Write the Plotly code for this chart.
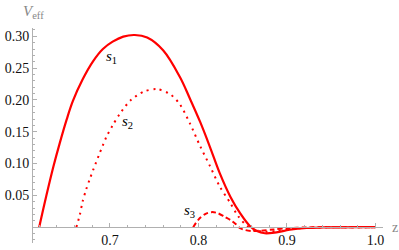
import plotly.graph_objects as go

# ---- data ----
s1_x = [0.620, 0.628, 0.636, 0.643, 0.651, 0.658, 0.669, 0.681, 0.692, 0.703, 0.715, 0.728,
        0.742, 0.760, 0.779, 0.790, 0.802, 0.813, 0.824, 0.836, 0.847, 0.858, 0.866, 0.875,
        0.888, 0.903, 0.922, 0.940, 0.960, 0.980, 1.000]
s1_y = [0.0, 0.049, 0.095, 0.131, 0.169, 0.198, 0.232, 0.261, 0.280, 0.2915, 0.2995, 0.302,
        0.298, 0.278, 0.236, 0.203, 0.165, 0.126, 0.085, 0.048, 0.022, 0.002, -0.006, -0.0095,
        -0.008, -0.004, -0.0012, -0.0004, -0.0001, 0.0, 0.0]

s2_x = [0.662, 0.666, 0.669, 0.673, 0.677, 0.681, 0.688, 0.696, 0.703, 0.711, 0.723, 0.738,
        0.753, 0.768, 0.779, 0.790, 0.802, 0.813, 0.824, 0.836, 0.845, 0.855, 0.865, 0.875,
        0.888, 0.903, 0.922, 0.940, 0.960, 0.980, 1.000]
s2_y = [0.0, 0.020, 0.040, 0.059, 0.075, 0.090, 0.115, 0.142, 0.160, 0.178, 0.199, 0.213,
        0.217, 0.209, 0.193, 0.164, 0.127, 0.096, 0.064, 0.038, 0.017, 0.002, -0.005, -0.007,
        -0.006, -0.003, -0.001, -0.0003, 0.0, 0.0, 0.0]

s3_x = [0.794, 0.800, 0.808, 0.815, 0.822, 0.830, 0.836, 0.842, 0.847, 0.853, 0.860, 0.870,
        0.885, 0.900, 0.920, 0.950, 1.000]
s3_y = [0.0, 0.012, 0.021, 0.0237, 0.022, 0.016, 0.0115, 0.005, -0.0016, -0.0045, -0.006, -0.0055,
        -0.0035, -0.0016, -0.0005, 0.0, 0.0]

x_ticks = [0.7, 0.8, 0.9, 1.0]
x_tick_text = ["0.7", "0.8", "0.9", "1.0"]
y_ticks = [0.05, 0.10, 0.15, 0.20, 0.25, 0.30]
y_tick_text = ["0.05", "0.10", "0.15", "0.20", "0.25", "0.30"]

curve_labels = ["<i>s</i><sub>1</sub>", "<i>s</i><sub>2</sub>", "<i>s</i><sub>3</sub>"]
label_x = [0.702, 0.720, 0.790]
label_y = [0.267, 0.166, 0.026]

x_range = [0.613, 1.0085]
y_range = [-0.0248, 0.313]

RED = "#ff0000"
AX = "#b0b0b0"
SERIF = "Liberation Serif"

fig = go.Figure()
fig.add_trace(go.Scatter(x=s1_x, y=s1_y, mode="lines",
                         line=dict(color=RED, width=2.2, shape="spline", smoothing=1.0),
                         hoverinfo="skip"))
fig.add_trace(go.Scatter(x=s2_x, y=s2_y, mode="lines",
                         line=dict(color=RED, width=2, dash="2px,4.6px", shape="spline", smoothing=0.8),
                         hoverinfo="skip"))
fig.add_trace(go.Scatter(x=s3_x, y=s3_y, mode="lines",
                         line=dict(color=RED, width=2, dash="5px,3px", shape="spline", smoothing=0.8),
                         hoverinfo="skip"))

for t, xx, yy in zip(curve_labels, label_x, label_y):
    fig.add_annotation(x=xx, y=yy, xref="x", yref="y", text=t, showarrow=False,
                       font=dict(family=SERIF, size=15, color="#000"))

zero_pos = (0 - y_range[0]) / (y_range[1] - y_range[0])

fig.update_layout(
    width=399, height=250,
    margin=dict(l=33, r=16, t=28, b=7, autoexpand=False),
    paper_bgcolor="white", plot_bgcolor="white",
    showlegend=False,
    xaxis=dict(range=x_range, tickmode="array", tickvals=x_ticks, ticktext=x_tick_text,
               anchor="free", position=zero_pos, showline=True, linecolor=AX, linewidth=1,
               ticks="inside", ticklen=4, tickcolor=AX, showgrid=False, zeroline=False,
               tickfont=dict(family=SERIF, size=14, color="#111"),
               minor=dict(tickmode="linear", tick0=0.6, dtick=0.02, ticks="inside", ticklen=2,
                          tickcolor=AX, showgrid=False)),
    yaxis=dict(range=y_range, tickmode="array", tickvals=y_ticks, ticktext=y_tick_text,
               showline=True, linecolor=AX, linewidth=1,
               ticks="inside", ticklen=4, tickcolor=AX, showgrid=False, zeroline=False,
               tickfont=dict(family=SERIF, size=14, color="#111"),
               minor=dict(tickmode="linear", tick0=0, dtick=0.01, ticks="inside", ticklen=2,
                          tickcolor=AX, showgrid=False)),
)

fig.add_annotation(xref="paper", yref="paper", x=-0.035, y=1.075, xanchor="left", yanchor="middle",
                   text="<i>V</i><sub>eff</sub>", showarrow=False,
                   font=dict(family=SERIF, size=15, color="#888"))
fig.add_annotation(xref="paper", yref="y", x=1.035, y=-0.001, xanchor="center", yanchor="middle",
                   text="z", showarrow=False, font=dict(family=SERIF, size=14, color="#888"))

fig.write_html("out.html", config={"displayModeBar": False},
               post_script="document.body.style.margin='0px';")
